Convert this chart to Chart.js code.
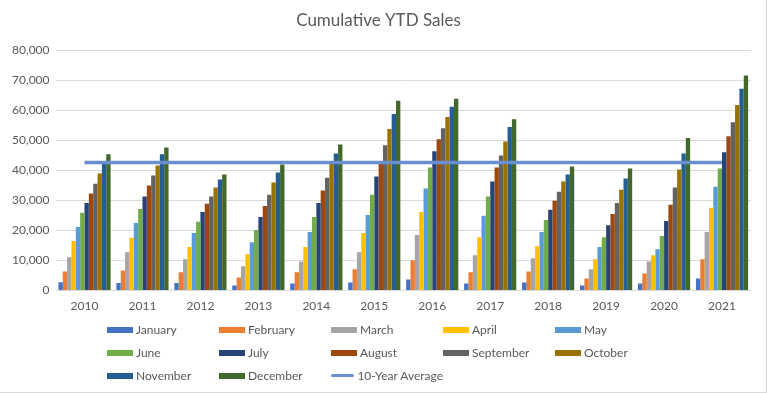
<!DOCTYPE html>
<html>
<head>
  <meta charset="utf-8">
  <title>Cumulative YTD Sales</title>
  <script src="https://cdn.jsdelivr.net/npm/chart.js"></script>
  <style>
    body {
      margin: 0;
      background-color: #fff;
      font-family: Lato, "Open Sans", sans-serif;
    }
    /* Outer frame like the spreadsheet chart box */
    .frame {
      position: relative;
      width: 766px;
      height: 392px;
      border-right: 1px solid #d9d9d9;
      border-bottom: 1px solid #d9d9d9;
    }
    /* Legend laid out in fixed columns of five */
    .legend {
      position: absolute;
      left: 107px;
      top: 320px;
      display: grid;
      grid-template-columns: repeat(5, 112px);
      row-gap: 4px;
      font-size: 12px;
      color: #595959;
    }
    .legend div {
      height: 19px;
      display: flex;
      align-items: center;
      white-space: nowrap;
    }
    .legend span.box {
      display: inline-block;
      width: 26px;
      height: 6px;
      margin-right: 3px;
    }
    .legend span.line {
      display: inline-block;
      width: 26px;
      height: 3px;
      border-radius: 2px;
      margin-right: 3px;
    }
  </style>
</head>
<body>
  <div class="frame">
    <canvas id="chart" width="766" height="392"></canvas>
    <div class="legend" id="legend"></div>
  </div>

  <script>
    // Years on the x axis
    const years = ["2010", "2011", "2012", "2013", "2014", "2015", "2016", "2017", "2018", "2019", "2020", "2021"];
    const months = ["January", "February", "March", "April", "May", "June", "July", "August", "September", "October", "November", "December"];

    // Cumulative sales by month, one value per year
    const jan = [2800, 2500, 2500, 1700, 2400, 2700, 3700, 2400, 2700, 1700, 2400, 4000];
    const feb = [6400, 6700, 6100, 4400, 6100, 7100, 10100, 6100, 6400, 4000, 5700, 10400];
    const mar = [11100, 12800, 10400, 8100, 9700, 12800, 18500, 11800, 10800, 7100, 9700, 19500];
    const apr = [16500, 17600, 14500, 12100, 14500, 19200, 26200, 17800, 14800, 10400, 11800, 27600];
    const may = [21200, 22500, 19200, 16100, 19500, 25200, 34000, 24900, 19500, 14500, 13800, 34600];
    const jun = [25900, 27200, 22900, 20200, 24500, 31900, 41000, 31300, 23500, 17800, 18200, 40700];
    const jul = [29200, 31300, 26200, 24500, 29200, 38000, 46400, 36300, 26900, 21800, 23200, 46100];
    const aug = [32300, 35000, 28900, 28200, 33300, 42300, 50400, 41000, 29900, 25500, 28600, 51400];
    const sep = [35600, 38300, 31300, 31900, 37600, 48400, 54100, 45000, 32900, 29200, 34300, 56100];
    const oct = [39000, 41700, 34300, 36000, 42200, 53800, 57800, 49700, 36300, 33600, 40300, 61800];
    const nov = [42400, 45400, 37000, 39300, 45700, 58800, 61200, 54500, 38700, 37300, 45700, 67200];
    const dec = [45400, 47700, 38700, 42000, 48700, 63200, 63900, 57100, 41300, 40700, 50800, 71600];

    // 10-year average, flat across all years
    const tenYearAvg = [42700, 42700, 42700, 42700, 42700, 42700, 42700, 42700, 42700, 42700, 42700, 42700];

    const monthData = [jan, feb, mar, apr, may, jun, jul, aug, sep, oct, nov, dec];
    const monthColors = ['#4472c4', '#ed7d31', '#a5a5a5', '#ffc000', '#5b9bd5', '#70ad47',
                         '#264478', '#9e480e', '#636363', '#997300', '#255e91', '#43682b'];
    const avgColor = '#6a8fd0';

    const datasets = months.map((m, i) => ({
      type: 'bar',
      label: m,
      data: monthData[i],
      backgroundColor: monthColors[i],
      barPercentage: 1.0,
      categoryPercentage: 0.9,
      order: 1
    }));
    datasets.push({
      type: 'line',
      label: '10-Year Average',
      data: tenYearAvg,
      borderColor: avgColor,
      borderWidth: 3.5,
      pointRadius: 0,
      fill: false,
      order: 0
    });

    const textColor = '#595959';
    const ctx = document.getElementById('chart').getContext('2d');
    new Chart(ctx, {
      data: { labels: years, datasets: datasets },
      options: {
        responsive: false,
        animation: false,
        layout: { padding: { left: 6, right: 15, top: 0, bottom: 79 } },
        plugins: {
          legend: { display: false },
          tooltip: { enabled: false },
          title: {
            display: true,
            text: 'Cumulative YTD Sales',
            color: textColor,
            font: { family: 'Lato', size: 17, weight: 'normal' },
            padding: { top: 10, bottom: 20 }
          }
        },
        scales: {
          x: {
            grid: { display: false },
            border: { display: false },
            ticks: { color: textColor, font: { family: 'Lato', size: 12 }, padding: 0 }
          },
          y: {
            min: 0,
            max: 80000,
            ticks: {
              stepSize: 10000,
              color: textColor,
              font: { family: 'Lato', size: 12 },
              padding: 6,
              callback: v => v.toLocaleString('en-US')
            },
            grid: { color: '#d9d9d9', drawTicks: false },
            border: { display: false }
          }
        }
      }
    });

    // Build the HTML legend in five fixed columns
    const legend = document.getElementById('legend');
    months.forEach((m, i) => {
      const item = document.createElement('div');
      item.innerHTML = '<span class="box" style="background:' + monthColors[i] + '"></span>' + m;
      legend.appendChild(item);
    });
    const avgItem = document.createElement('div');
    avgItem.innerHTML = '<span class="line" style="background:' + avgColor + '"></span>10-Year Average';
    legend.appendChild(avgItem);
  </script>
</body>
</html>
